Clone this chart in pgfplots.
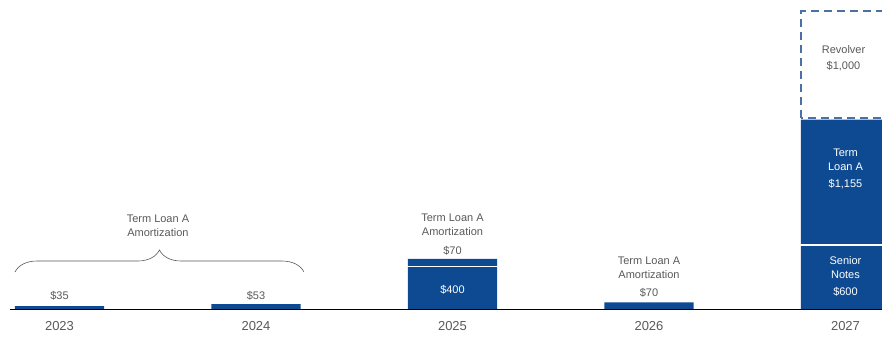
\documentclass[border=0pt]{standalone}
\usepackage{pgfplots}
\pgfplotsset{compat=1.18}
\usepackage{fontspec}
\setmainfont{Liberation Sans}
\usetikzlibrary{decorations.pathreplacing}
\definecolor{barblue}{RGB}{14,74,145}
\definecolor{dashblue}{RGB}{74,112,168}
\definecolor{txt}{RGB}{89,89,89}
\definecolor{baseline}{RGB}{200,200,200}
\begin{document}
\begin{tikzpicture}
\pgfplotsset{
  common/.style={
    scale only axis, width=882pt, height=340pt,
    xmin=-0.3028, xmax=4.1858, ymin=-276.5, ymax=2857,
    hide axis, clip=true,
  }
}
\begin{axis}[common, name=ax, ybar stacked, bar width=0.453]
\addplot[fill=barblue, draw=none] coordinates {(0,35) (1,53) (2,400) (3,70) (4,600)};
\addplot[fill=barblue, draw=none] coordinates {(0,0) (1,0) (2,70) (3,0) (4,1155)};
\end{axis}
\begin{axis}[common]
% baseline
\addplot[baseline, line width=1pt] coordinates {(-0.25,0) (4.19,0)};
% separators
\addplot[white, line width=1.8pt] coordinates {(1.7,400) (2.3,400)};
\addplot[white, line width=1.8pt] coordinates {(3.7,600) (4.3,600)};
% revolver
\addplot[dashblue, line width=1.6pt, dash pattern=on 8pt off 5pt, fill=white]
  coordinates {(3.7735,1770) (3.7735,2755) (4.2265,2755) (4.2265,1770)} -- cycle;
% brace
\draw[txt, line width=0.6pt, decorate, decoration={brace, amplitude=22pt}]
  (axis cs:-0.2265,350) -- (axis cs:1.244,350);
\begin{scope}[every node/.style={font=\fontsize{11}{14}\selectfont, text=txt, align=center, inner sep=0pt}]
\node at (axis cs:0,129) {\$35};
\node at (axis cs:1,129) {\$53};
\node at (axis cs:0.501,774) {Term Loan A\\Amortization};
\node at (axis cs:2,783) {Term Loan A\\Amortization};
\node at (axis cs:2,544) {\$70};
\node[text=white] at (axis cs:2,184) {\$400};
\node at (axis cs:3,392) {Term Loan A\\Amortization};
\node at (axis cs:3,157) {\$70};
\node at (axis cs:3.99,2323) {Revolver\\[2pt]\$1,000};
\node[text=white] at (axis cs:4,1304) {Term\\Loan A\\[3pt]\$1,155};
\node[text=white] at (axis cs:4,313) {Senior\\Notes\\[3pt]\$600};
\end{scope}
\begin{scope}[every node/.style={font=\fontsize{13}{15}\selectfont, text=txt, inner sep=0pt}]
\node at (axis cs:0,-147) {2023};
\node at (axis cs:1,-147) {2024};
\node at (axis cs:2,-147) {2025};
\node at (axis cs:3,-147) {2026};
\node at (axis cs:4,-147) {2027};
\end{scope}
\end{axis}
\path (ax.south west) rectangle (ax.north east);
\end{tikzpicture}
\end{document}
